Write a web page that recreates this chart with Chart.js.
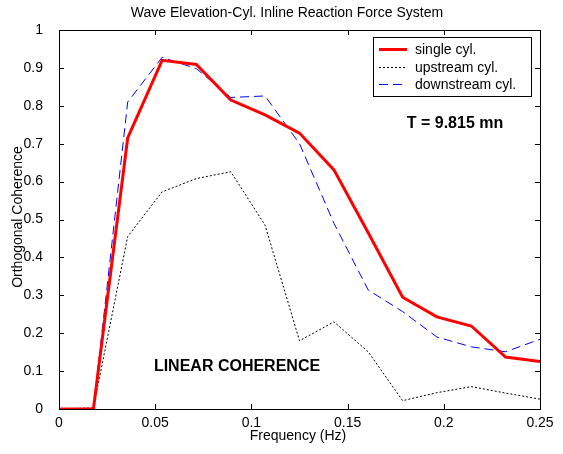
<!DOCTYPE html>
<html>
<head>
<meta charset="utf-8">
<script src="https://cdn.jsdelivr.net/npm/chart.js@4.4.0/dist/chart.umd.min.js"></script>
<style>
  html, body { margin: 0; padding: 0; background: #fff; }
  #wrap { width: 563px; height: 454px; position: relative; }
</style>
</head>
<body>
<div id="wrap"><canvas id="coherenceChart" width="563" height="454"></canvas></div>
<script>
// frequencies (Hz)
const freq = [0, 0.0179, 0.0357, 0.0536, 0.0714, 0.0893, 0.1071, 0.125, 0.1429, 0.1607, 0.1786, 0.1964, 0.2143, 0.2321, 0.25];

// coherence values
const singleCyl = [0, 0, 0.715, 0.92, 0.909, 0.815, 0.776, 0.728, 0.631, 0.465, 0.295, 0.243, 0.219, 0.137, 0.125];
const upstreamCyl = [0, 0.003, 0.455, 0.573, 0.608, 0.626, 0.485, 0.180, 0.230, 0.151, 0.022, 0.043, 0.059, 0.042, 0.026];
const downstreamCyl = [0, 0, 0.81, 0.928, 0.898, 0.822, 0.826, 0.70, 0.49, 0.314, 0.257, 0.19, 0.164, 0.151, 0.184];

const xTicks = [0, 0.05, 0.1, 0.15, 0.2, 0.25];
const yTicks = [0, 0.1, 0.2, 0.3, 0.4, 0.5, 0.6, 0.7, 0.8, 0.9, 1];

const toPoints = vals => vals.map((v, i) => ({ x: freq[i], y: v }));
const FONT = 'Arial, "Liberation Sans", sans-serif';

// draws the box, inward ticks, titles, legend and text notes
const decorations = {
  id: 'decorations',
  afterDraw(chart) {
    const ctx = chart.ctx;
    const a = chart.chartArea;
    const xs = chart.scales.x, ys = chart.scales.y;
    ctx.save();
    ctx.strokeStyle = '#000';
    ctx.lineWidth = 1;
    ctx.setLineDash([]);
    ctx.strokeRect(Math.round(a.left) + 0.5, Math.round(a.top) + 0.5, Math.round(a.right - a.left), Math.round(a.bottom - a.top));

    ctx.beginPath();
    xTicks.forEach(t => {
      const px = Math.round(xs.getPixelForValue(t)) + 0.5;
      ctx.moveTo(px, a.bottom); ctx.lineTo(px, a.bottom - 5);
      ctx.moveTo(px, a.top); ctx.lineTo(px, a.top + 5);
    });
    yTicks.forEach(t => {
      const py = Math.round(ys.getPixelForValue(t)) + 0.5;
      ctx.moveTo(a.left, py); ctx.lineTo(a.left + 5, py);
      ctx.moveTo(a.right, py); ctx.lineTo(a.right - 5, py);
    });
    ctx.stroke();

    ctx.fillStyle = '#000';
    ctx.textAlign = 'center';
    ctx.textBaseline = 'middle';
    ctx.font = '14px ' + FONT;
    ctx.fillText('Wave Elevation-Cyl. Inline Reaction Force System', 287, 13);
    ctx.fillText('Frequency (Hz)', 298, 436);
    ctx.save();
    ctx.translate(18, 217);
    ctx.rotate(-Math.PI / 2);
    ctx.fillText('Orthogonal Coherence', 0, 0);
    ctx.restore();

    ctx.font = 'bold 16px ' + FONT;
    ctx.fillText('T = 9.815 mn', 455, 124);
    ctx.fillText('LINEAR COHERENCE', 237, 367);

    // legend
    ctx.fillStyle = '#fff';
    ctx.fillRect(373, 37, 158, 59);
    ctx.strokeStyle = '#000';
    ctx.strokeRect(373.5, 37.5, 158, 59);
    const rows = [49, 67, 84];
    chart.data.datasets.forEach((ds, i) => {
      ctx.beginPath();
      ctx.strokeStyle = ds.borderColor;
      ctx.lineWidth = ds.borderWidth;
      ctx.setLineDash(ds.borderDash || []);
      ctx.moveTo(379, rows[i] + 0.5);
      ctx.lineTo(407, rows[i] + 0.5);
      ctx.stroke();
      ctx.setLineDash([]);
      ctx.fillStyle = '#000';
      ctx.textAlign = 'left';
      ctx.font = '14px ' + FONT;
      ctx.fillText(ds.label, 415, rows[i] + 1);
    });
    ctx.restore();
  }
};

new Chart(document.getElementById('coherenceChart'), {
  type: 'line',
  data: {
    datasets: [
      { label: 'single cyl.', data: toPoints(singleCyl), borderColor: '#ff0000', borderWidth: 3, pointRadius: 0, tension: 0 },
      { label: 'upstream cyl.', data: toPoints(upstreamCyl), borderColor: '#000000', borderWidth: 1, borderDash: [2, 2], pointRadius: 0, tension: 0 },
      { label: 'downstream cyl.', data: toPoints(downstreamCyl), borderColor: '#0000ff', borderWidth: 1, borderDash: [9, 5], pointRadius: 0, tension: 0 }
    ]
  },
  options: {
    responsive: false,
    animation: false,
    devicePixelRatio: 1,
    layout: { padding: { top: 30, right: 23, left: 0, bottom: 0 } },
    plugins: { legend: { display: false }, tooltip: { enabled: false }, title: { display: false } },
    scales: {
      x: {
        type: 'linear',
        min: 0, max: 0.25,
        grid: { display: false },
        border: { display: false },
        afterBuildTicks: s => { s.ticks = xTicks.map(v => ({ value: v })); },
        afterFit: s => { s.height = 45; },
        ticks: { color: '#000', font: { family: FONT, size: 14 }, padding: -2, maxRotation: 0,
                 callback: v => String(v) }
      },
      y: {
        min: 0, max: 1,
        grid: { display: false },
        border: { display: false },
        afterBuildTicks: s => { s.ticks = yTicks.map(v => ({ value: v })); },
        afterFit: s => { s.width = 59; },
        ticks: { color: '#000', font: { family: FONT, size: 14 }, padding: 8,
                 callback: v => String(v) }
      }
    }
  },
  plugins: [decorations]
});
</script>
</body>
</html>
